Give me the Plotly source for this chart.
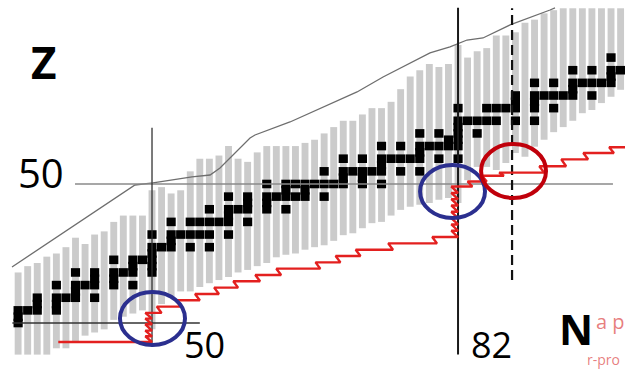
import plotly.graph_objects as go

# ---------------- data (N = neutron number, Z = proton number) ----------------
# known-nuclei columns (light gray): top and bottom Z for each N
col_N = list(range(36, 100))
col_top = [36, 37, 37.5, 38.5, 39, 40, 41.5, 40.5, 42, 42.5, 44, 45, 45, 45,
           49, 49.5, 48.5, 49, 52, 54, 54, 54.5, 56, 54, 53.5, 55, 56, 56, 56, 56,
           56.5, 57, 58, 59, 60, 60, 61, 62, 62, 63, 65, 67, 68, 69, 68.5, 69,
           72, 70, 71, 71.5, 73.5, 73.5, 74, 75.5, 76, 77, 77.5,
           77.8, 77.8, 77.8, 77.8, 77.8, 77.8, 77.8]
col_bot = [23, 23, 23, 23, 24, 24, 25, 26, 26.5, 27, 28.5, 29, 29.5, 30,
           27, 31, 32, 33, 33, 33.7, 34.3, 34.8, 35.3, 36, 36.4, 37, 37.5, 38.4,
           38.8, 39, 39.6, 40, 40.3, 41, 41.9, 42.2, 43, 43.8, 44, 45, 45.9, 46.4,
           46.7, 47, 47.5, 47.8, 47, 50.6, 52.7, 52.7, 52.2, 53.3, 54.9, 54.3,
           55.9, 57, 58.2, 59, 60, 61.2, 61.7, 62.8, 63.8, 64.9]

# stable nuclei (black): element Z and its stable N values
stable_Z = [28, 29, 30, 31, 32, 33, 34, 35, 36, 37, 38, 39, 40, 41, 42, 44, 45,
            46, 47, 48, 49, 50, 51, 52, 53, 54, 55, 56, 57, 58, 59, 60, 62, 63,
            64, 65, 66, 67, 68, 70]
stable_N = [[36], [36], [36, 37, 38, 40], [38, 40], [38, 40, 41, 42, 44], [42],
            [40, 42, 43, 44, 46, 48], [44, 46], [42, 44, 46, 47, 48, 50], [48, 50],
            [46, 48, 49, 50], [50], [50, 51, 52, 54, 56], [52],
            [50, 52, 53, 54, 55, 56, 58], [52, 54, 55, 56, 57, 58, 60], [58],
            [56, 58, 59, 60, 62, 64], [60, 62], [58, 60, 62, 63, 64, 65, 66, 68],
            [64, 66], [62, 64, 65, 66, 67, 68, 69, 70, 72, 74], [70, 72],
            [68, 70, 71, 72, 73, 74, 76, 78], [74],
            [70, 72, 74, 75, 76, 77, 78, 80, 82], [78],
            [74, 76, 78, 79, 80, 81, 82], [81, 82], [78, 80, 82, 84], [82],
            [82, 83, 84, 85, 86, 88, 90], [82, 85, 86, 87, 88, 90, 92], [88, 90],
            [88, 90, 91, 92, 93, 94, 96], [94], [90, 92, 94, 95, 96, 97, 98], [98],
            [94, 96, 98, 99], [98]]

# outer border of known nuclei (thin gray line)
edge_N = [35.36, 48.22, 50.10, 54.18, 56.07, 57.11, 60.25, 60.77, 64.43, 67.88,
          71.44, 74.16, 76.25, 77.71, 79.07, 81.16, 82.94, 84.61, 87.44, 91.62, 92.14]
edge_Z = [36.87, 49.84, 50.16, 51.11, 51.42, 52.53, 57.28, 57.75, 59.81, 62.18,
          64.56, 66.93, 68.51, 69.62, 70.73, 71.68, 72.78, 73.10, 75.16, 77.53, 77.85]

# r-process path (red staircase): each level Z runs from N_from to N_to
rp_Z = [25.0, 25.9, 26.8, 27.8, 28.7, 29.6, 30.6, 31.6, 32.6, 33.6, 34.6, 35.6,
        36.6, 37.6, 38.6, 39.6, 40.6, 41.6, 42.6, 43.6, 44.6, 45.6, 46.6, 47.6,
        48.6, 49.6, 50.4, 51.3, 51.8, 52.8, 53.9, 54.9, 55.8]
rp_N_from = [40.2, 49.3, 49.3, 49.3, 49.3, 49.3, 50.5, 52.5, 54.5, 56.5, 58.5, 60.8,
             63.0, 67.1, 69.2, 71.3, 74.7, 79.3, 81.3, 81.3, 81.3, 81.3, 81.3, 81.3,
             81.3, 81.3, 83.0, 84.5, 86.3, 90.5, 92.8, 95.1, 97.8]
rp_N_to = [50.0, 50.0, 50.0, 50.0, 50.0, 51.0, 53.0, 55.0, 57.0, 59.0, 61.3, 63.5,
           67.6, 69.7, 71.8, 75.2, 79.8, 82.0, 82.0, 82.0, 82.0, 82.0, 82.0, 82.0,
           82.0, 83.5, 85.0, 86.8, 91.0, 93.3, 95.6, 98.3, 100.0]

magic_N = [50, 82]
magic_Z = [28, 50]
dashed_N = 87.65

# ---------------- figure ----------------
W, H = 625, 372
N_MIN, N_MAX = 34.105, 99.46
Z_MIN, Z_MAX = 20.25, 79.11

fig = go.Figure()

# gray columns
fig.add_trace(go.Bar(
    x=col_N, base=col_bot, y=[t - b for t, b in zip(col_top, col_bot)],
    width=0.72, marker=dict(color="#cbcbcb", line=dict(width=0)),
    hoverinfo="skip"))

# stable nuclei
sx, sz = [], []
for z, ns in zip(stable_Z, stable_N):
    for n in ns:
        sx.append(n)
        sz.append(z)
fig.add_trace(go.Bar(
    x=sx, base=[z - 0.68 for z in sz], y=[1.36] * len(sz),
    width=0.96, marker=dict(color="#000000", line=dict(width=0)),
    hoverinfo="skip"))

# border line
fig.add_trace(go.Scatter(x=edge_N, y=edge_Z, mode="lines",
                         line=dict(color="#6e6e6e", width=1.3), hoverinfo="skip"))

# magic-number lines
fig.add_trace(go.Scatter(x=[41.95, 98.2], y=[magic_Z[1]] * 2, mode="lines",
                         line=dict(color="#8a8a8a", width=1.5), hoverinfo="skip"))
fig.add_trace(go.Scatter(x=[35.4, 55.0], y=[magic_Z[0]] * 2, mode="lines",
                         line=dict(color="#333333", width=1.3), hoverinfo="skip"))
fig.add_trace(go.Scatter(x=[magic_N[0]] * 2, y=[24.2, 58.9], mode="lines",
                         line=dict(color="#333333", width=1.3), hoverinfo="skip"))
fig.add_trace(go.Scatter(x=[magic_N[1]] * 2, y=[23.0, 77.9], mode="lines",
                         line=dict(color="#1a1a1a", width=2), hoverinfo="skip"))
fig.add_trace(go.Scatter(x=[dashed_N] * 2, y=[34.8, 77.8], mode="lines",
                         line=dict(color="#111111", width=2.2, dash="10px,5px"),
                         hoverinfo="skip"))

# r-process path
px, pz = [], []
for z, a, b in zip(rp_Z, rp_N_from, rp_N_to):
    px += [a, b]
    pz += [z, z]
fig.add_trace(go.Scatter(x=px, y=pz, mode="lines",
                         line=dict(color="#e3201f", width=2.4), hoverinfo="skip"))

# ellipses
ell = [
    (46.65, 53.45, 24.53, 32.91, "#2b2f8f"),
    (78.03, 84.82, 44.62, 53.00, "#2b2f8f"),
    (84.41, 91.20, 47.78, 56.33, "#c0000b"),
]
for x0, x1, y0, y1, c in ell:
    fig.add_shape(type="circle", xref="x", yref="y", x0=x0, x1=x1, y0=y0, y1=y1,
                  line=dict(color=c, width=4), layer="above")

def ann(text, px_, py_, size, bold=False, color="black", xanchor="center"):
    fig.add_annotation(
        text=("<b>%s</b>" % text) if bold else text,
        xref="paper", yref="paper", x=px_ / W, y=1 - py_ / H,
        xanchor=xanchor, yanchor="middle", showarrow=False,
        font=dict(family="Open Sans, Arial, sans-serif", size=size, color=color))

ann("a p", 594, 321, 20, color="rgba(220,70,70,0.7)", xanchor="left")
ann("r-pro", 585, 359, 14, color="rgba(220,70,70,0.7)", xanchor="left")
ann("Z", 43, 62, 44, bold=True)
ann("N", 576, 328, 42, bold=True)
ann("50", 41, 172, 40)
ann("50", 204, 344, 36)
ann("82", 491, 344, 36)

fig.update_layout(
    width=W, height=H, margin=dict(l=0, r=0, t=0, b=0),
    paper_bgcolor="white", plot_bgcolor="white",
    barmode="overlay", showlegend=False, hovermode=False,
    xaxis=dict(range=[N_MIN, N_MAX], visible=False, fixedrange=True),
    yaxis=dict(range=[Z_MIN, Z_MAX], visible=False, fixedrange=True),
)

fig.write_html("out.html", config={"displayModeBar": False, "staticPlot": True},
               post_script="document.body.style.margin='0';")
